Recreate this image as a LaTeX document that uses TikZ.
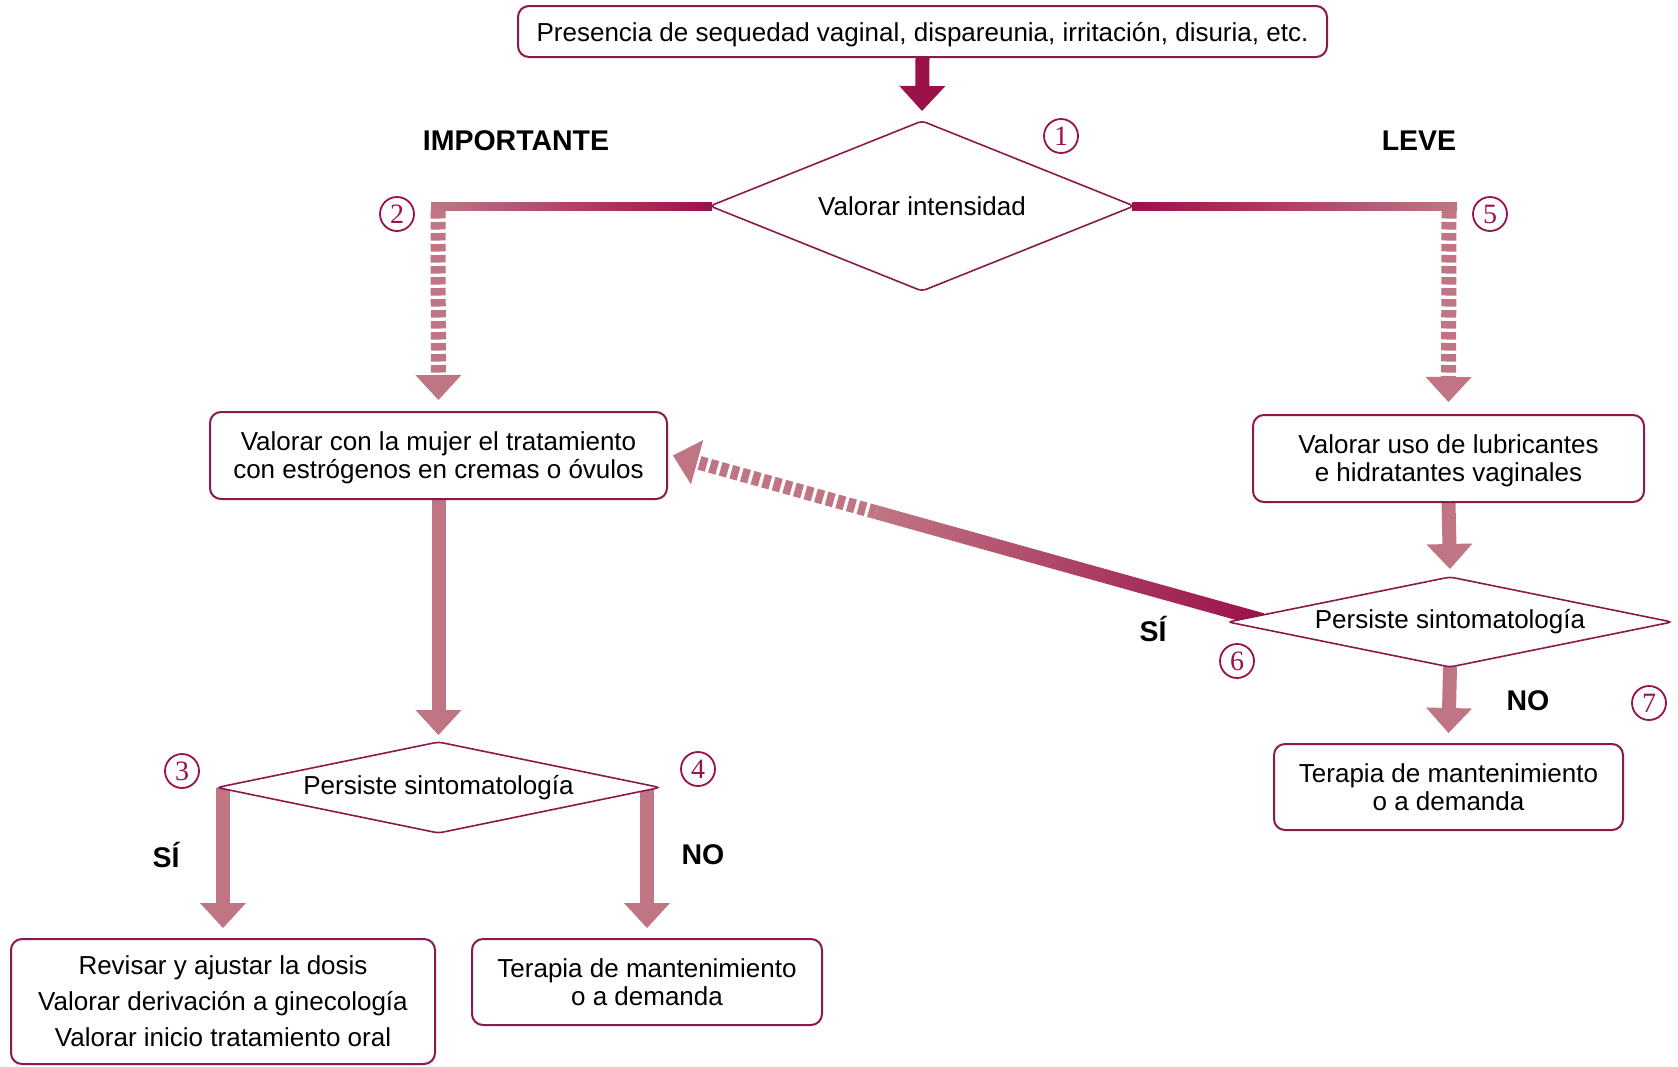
\documentclass[tikz,border=0pt]{standalone}
\usepackage{fontspec}
\setmainfont{Liberation Sans}
\newfontfamily\numfont{Liberation Serif}
\usetikzlibrary{calc,shapes.geometric,backgrounds}
\definecolor{dkred}{RGB}{155,17,74}
\definecolor{ltred}{RGB}{192,117,132}
\definecolor{bordc}{RGB}{140,25,75}
\newcommand\fatarrow[4]{%
  \draw[line width=14pt,#1,#2] (#3) -- ($(#4)!22pt!(#3)$);
  \fill[#1] (#4) -- ($(#4)!25pt!(#3)!23pt!90:(#4)$) -- ($(#4)!25pt!(#3)!23pt!-90:(#4)$) -- cycle;}
\begin{document}
\begin{tikzpicture}[x=1pt,y=-1pt,
  box/.style={draw=bordc, line width=2pt, rounded corners=11pt, fill=white, inner sep=0pt, align=center, text depth=0pt, font=\fontsize{26}{28}\selectfont},
  dia/.style={shape=diamond, draw=bordc, line width=1.6pt, fill=white, inner sep=0pt, outer sep=0pt, rounded corners=4pt, font=\fontsize{26}{28}\selectfont},
  lab/.style={font=\bfseries\fontsize{28.5}{30}\selectfont},
  num/.style={circle, draw=dkred, line width=1.8pt, text=dkred, minimum size=34pt, inner sep=0pt, font=\numfont\fontsize{28}{28}\selectfont},
  dashedshaft/.style={line width=15pt, dash pattern=on 7.5pt off 3.5pt}]
\useasboundingbox (0,0) rectangle (1678,1066);

% nodes
\node[box, minimum width=809pt, minimum height=51pt] (top) at (922.5,31.5) {Presencia de sequedad vaginal, dispareunia, irritación, disuria, etc.};
\node[dia, minimum width=424pt, minimum height=170pt, shape aspect=2.5] (d1) at (922,206) {Valorar intensidad};
\node[box, minimum width=457pt, minimum height=87pt] (box2) at (438.5,455.5) {Valorar con la mujer el tratamiento\\con estrógenos en cremas o óvulos};
\node[box, minimum width=391pt, minimum height=87pt] (box5) at (1448.5,458.5) {Valorar uso de lubricantes\\e hidratantes vaginales};
\node[dia, minimum width=443pt, minimum height=91pt, shape aspect=4.87] (d3) at (438.5,787.5) {Persiste sintomatología};
\node[dia, minimum width=444pt, minimum height=90pt, shape aspect=4.93] (d6) at (1450,622) {Persiste sintomatología};
\node[box, minimum width=424pt, minimum height=125pt, font=\fontsize{26}{36}\selectfont] (box3) at (223,1001.5) {Revisar y ajustar la dosis\\Valorar derivación a ginecología\\Valorar inicio tratamiento oral};
\node[box, minimum width=350pt, minimum height=86pt] (box4) at (647,982) {Terapia de mantenimiento\\o a demanda};
\node[box, minimum width=349pt, minimum height=86pt] (box7) at (1448.5,787) {Terapia de mantenimiento\\o a demanda};

% labels
\node[lab] (limp) at (516,141) {IMPORTANTE};
\node[lab] (lleve) at (1419,141) {LEVE};
\node[lab] (lsi3) at (166,855) {SÍ};
\node[lab] (lno3) at (703,855) {NO};
\node[lab] (lsi6) at (1153,629) {SÍ};
\node[lab] (lno6) at (1528,701) {NO};

% circled numbers
\node[num] (n1) at (1061,136) {1};
\node[num] (n2) at (397,214) {2};
\node[num] (n3) at (182,771) {3};
\node[num] (n4) at (698,769) {4};
\node[num] (n5) at (1490,214) {5};
\node[num] (n6) at (1237,661) {6};
\node[num] (n7) at (1649,703) {7};

% helper coordinates
\coordinate (c2) at (438,206);
\coordinate (c5) at (1449,206);
\coordinate (c2b) at ($(c2)+(0,5)$);
\coordinate (c5b) at ($(c5)+(0,5)$);
\coordinate (t1) at ($(d1.north)+(0,-10)$);
\coordinate (t2) at ($(box2.north)+(0,-11)$);
\coordinate (t5) at ($(box5.north)+(0,-12)$);
\coordinate (t3) at ($(d3.north)+(0,-7)$);
\coordinate (s3l) at (box3.north |- d3.west);
\coordinate (s3r) at (box4.north |- d3.east);
\coordinate (tb3) at ($(box3.north)+(0,-10)$);
\coordinate (tb4) at ($(box4.north)+(0,-10)$);
\coordinate (t6) at ($(d6.north)+(0,-8)$);
\coordinate (tb7) at ($(box7.north)+(0,-10)$);
\coordinate (dE) at ($(d6.west)+(34,-2)$);
\coordinate (dT) at ($(box2.east)+(5,0)$);
\coordinate (dM) at ($(dE)!0.655!(dT)$);

\begin{scope}[on background layer]
\fill[white] (0,0) rectangle (1678,1066);
% top arrow
\fatarrow{dkred}{}{top.south}{t1}
% horizontal gradient lines
\shade[left color=ltred, right color=dkred] ($(c2)+(-7,-4)$) rectangle ($(d1.west)+(2,4)$);
\shade[left color=dkred, right color=ltred] ($(d1.east)+(-2,-4)$) rectangle ($(c5)+(8,4)$);
% dashed verticals
\fatarrow{ltred}{dashedshaft}{c2b}{t2}
\fatarrow{ltred}{dashedshaft}{c5b}{t5}
% left branch
\fatarrow{ltred}{}{box2.south}{t3}
\fatarrow{ltred}{}{s3l}{tb3}
\fatarrow{ltred}{}{s3r}{tb4}
% right branch
\fatarrow{ltred}{}{box5.south}{t6}
\fatarrow{ltred}{}{d6.south}{tb7}
% diagonal SI arrow
\shade[left color=ltred, right color=dkred]
  ($(dE)!7pt!90:(dT)$) -- ($(dM)!7pt!-90:(dE)$) -- ($(dM)!7pt!90:(dE)$) -- ($(dE)!7pt!-90:(dT)$) -- cycle;
\fatarrow{ltred}{line width=14pt, dash pattern=on 7.5pt off 3.5pt}{dM}{dT}
\end{scope}
\end{tikzpicture}
\end{document}
